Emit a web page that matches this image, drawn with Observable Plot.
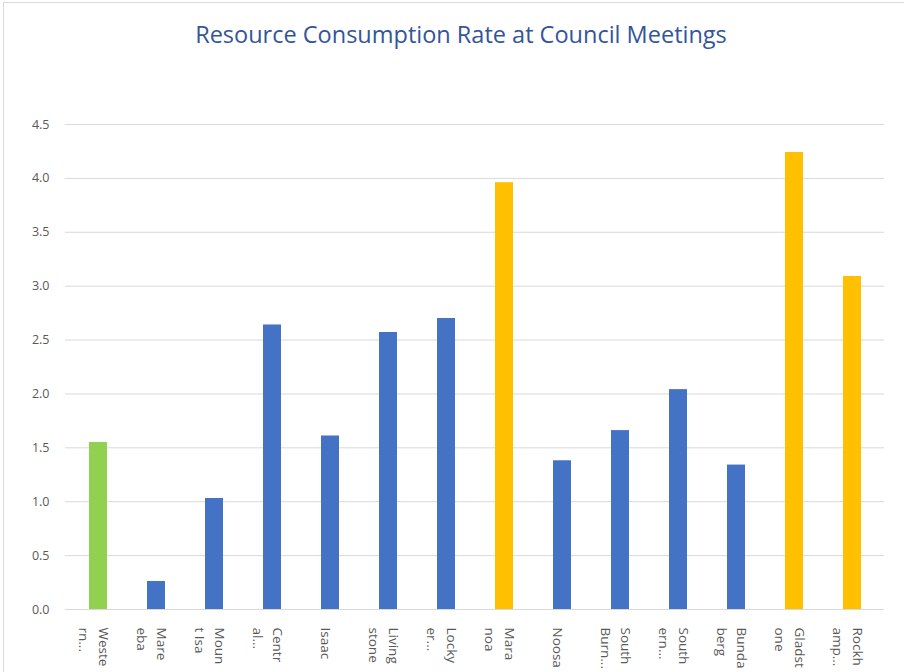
<!DOCTYPE html>
<html>
<head>
<meta charset="utf-8">
<script src="https://cdn.jsdelivr.net/npm/d3@7"></script>
<script src="https://cdn.jsdelivr.net/npm/@observablehq/plot@0.6"></script>
<style>
  html, body { margin: 0; padding: 0; background: #fff; overflow: hidden; }
  body { width: 904px; height: 672px; position: relative; font-family: "Open Sans", sans-serif; }
  #frame { position: absolute; left: 3px; top: 2px; width: 1000px; height: 1000px; border: 1px solid #d9d9d9; box-sizing: border-box; }
  #title { position: absolute; left: 9px; top: 0; width: 904px; height: 68px; line-height: 68px; text-align: center;
           font-size: 23.5px; color: #33559a; font-family: "Open Sans", sans-serif; }
  #chart { position: absolute; left: 0; top: 70px; }
</style>
</head>
<body>
<div id="frame"></div>
<div id="title">Resource Consumption Rate at Council Meetings</div>
<div id="chart"></div>
<script>
const councils = ["Western Downs", "Mareeba", "Mount Isa", "Central Highlands", "Isaac", "Livingstone", "Lockyer Valley", "Maranoa", "Noosa", "South Burnett", "Southern Downs", "Bundaberg", "Gladstone", "Rockhampton"];
const tickLabels = ["Weste\nrn...", "Mare\neba", "Moun\nt Isa", "Centr\nal...", "Isaac", "Living\nstone", "Locky\ner...", "Mara\nnoa", "Noosa", "South\nBurn...", "South\nern...", "Bunda\nberg", "Gladst\none", "Rockh\namp..."];
const rates = [1.55, 0.26, 1.03, 2.64, 1.61, 2.57, 2.70, 3.96, 1.38, 1.66, 2.04, 1.34, 4.24, 3.09];
const groups = ["Reference", "Standard", "Standard", "Standard", "Standard", "Standard", "Standard", "High", "Standard", "Standard", "Standard", "Standard", "High", "High"];
const groupNames = ["Reference", "Standard", "High"];
const groupColors = ["#92d050", "#4472c4", "#ffc000"];
const yTicks = [0, 0.5, 1, 1.5, 2, 2.5, 3, 3.5, 4, 4.5];

const data = councils.map((c, i) => ({council: c, rate: rates[i], group: groups[i]}));
const labelOf = new Map(councils.map((c, i) => [c, tickLabels[i]]));

const chart = Plot.plot({
  width: 904,
  height: 602,
  marginLeft: 65,
  marginRight: 20,
  marginTop: 54,
  marginBottom: 63,
  style: {fontFamily: "'Open Sans', sans-serif", background: "transparent", overflow: "visible"},
  x: {domain: councils, paddingInner: 0.69, paddingOuter: 0.345},
  y: {domain: [0, 4.5]},
  color: {domain: groupNames, range: groupColors},
  marks: [
    Plot.gridY(yTicks, {stroke: "#d9d9d9", strokeOpacity: 1, strokeWidth: 1}),
    Plot.axisY(yTicks, {tickSize: 0, tickPadding: 16, tickFormat: d3.format(".1f"), fontSize: 12.5, fill: "#595959", label: null}),
    Plot.barY(data, {x: "council", y: "rate", fill: "group"}),
    Plot.axisX({tickSize: 0, tickPadding: 18, tickRotate: 90, dx: -3, tickFormat: d => labelOf.get(d), lineHeight: 1.5, fontSize: 13.5, fill: "#595959", label: null})
  ]
});
document.getElementById("chart").appendChild(chart);
</script>
</body>
</html>
